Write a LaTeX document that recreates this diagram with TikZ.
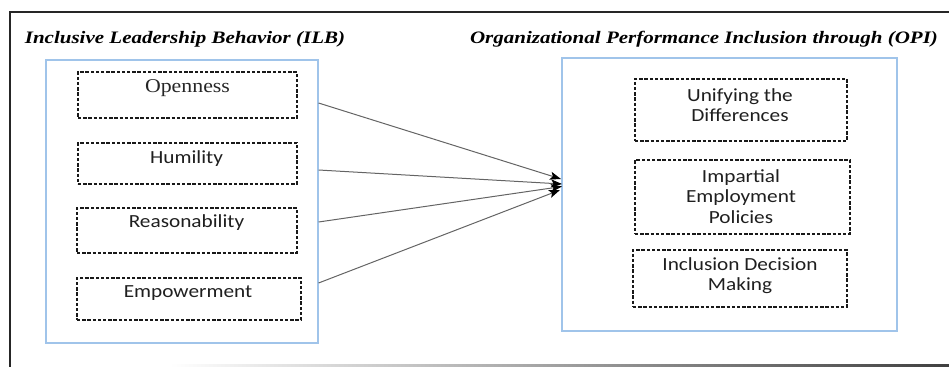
\documentclass[tikz,border=0pt]{standalone}
\usepackage{fontspec}
\setmainfont{Liberation Serif}
\newfontfamily\headfont[FakeStretch=1.2]{Liberation Serif}
\newfontfamily\serifwide[FakeStretch=1.12]{Liberation Serif}
\newfontfamily\itemfont[FakeStretch=1.15]{Carlito}
\usetikzlibrary{arrows.meta}
\definecolor{panelblue}{RGB}{160,196,234}
\definecolor{linkgray}{RGB}{100,100,100}
\tikzset{
  panel/.style={draw=panelblue, line width=1.1pt, rectangle, inner sep=0pt},
  dbox/.style={draw=black!90, line width=1.5pt, dash pattern=on 3.4pt off 1.8pt, rectangle, inner sep=0pt},
  heading/.style={font=\headfont\fontsize{17.5}{20}\selectfont\bfseries\itshape, inner sep=0pt},
  serifitem/.style={font=\serifwide\fontsize{19.5}{22}\selectfont, text=black!85, inner sep=0pt},
  sansitem/.style={font=\itemfont\fontsize{18.5}{20.5}\selectfont, text=black!88, align=center, inner sep=0pt},
  link/.style={draw=linkgray, line width=1pt, -{Stealth[length=11pt, width=8pt, inset=2.5pt, color=black]}}
}
\begin{document}
\begin{tikzpicture}[x=1pt, y=-1pt]
\useasboundingbox (0,0) rectangle (949,367);

% outer frame (open at the right)
\draw[black!85, line width=2.6pt] (10,12) -- (949,12);
\draw[black!85, line width=2pt] (10,11) -- (10,367);
\shade[left color=white, right color=black!75] (170,364) rectangle (949,366.5);

% headings
\node[heading] (hilb) at (185,39) {Inclusive Leadership Behavior (ILB)};
\node[heading] (hopi) at (704,39) {Organizational Performance Inclusion through (OPI)};

% panels
\node[panel, minimum width=272pt, minimum height=283pt] (ilb) at (182,201.5) {};
\node[panel, minimum width=335pt, minimum height=273pt] (opi) at (729.5,194.5) {};

% ILB dimensions
\node[dbox, minimum width=219pt, minimum height=46pt] (open) at (187.5,95) {};
\node[serifitem] (openT) at (187.5,88) {Openness};

\node[dbox, minimum width=219pt, minimum height=41pt] (hum) at (187.5,163.5) {};
\node[sansitem] (humT) at (186.5,159) {Humility};

\node[dbox, minimum width=220pt, minimum height=45pt] (reas) at (187,230.5) {};
\node[sansitem] (reasT) at (186.5,223) {Reasonability};

\node[dbox, minimum width=224pt, minimum height=42pt] (emp) at (189,299) {};
\node[sansitem] (empT) at (188,293) {Empowerment};

% OPI dimensions
\node[dbox, minimum width=212pt, minimum height=62pt] (unify) at (741,110) {};
\node[sansitem] (unifyT) at (740,105) {Unifying the\\Differences};

\node[dbox, minimum width=215pt, minimum height=74pt] (impart) at (742.5,197) {};
\node[sansitem] (impartT) at (741,196.5) {Impartial\\Employment\\Policies};

\node[dbox, minimum width=214pt, minimum height=57pt] (incl) at (740,278.5) {};
\node[sansitem] (inclT) at (740,275.5) {Inclusion Decision\\Making};

% link end points on the panel borders
\coordinate (s1) at (ilb.east |- 0,103);
\coordinate (s2) at (ilb.east |- 0,170);
\coordinate (s3) at (ilb.east |- 0,222);
\coordinate (s4) at (ilb.east |- 0,283);
\coordinate (t1) at (561,179);
\coordinate (t2) at (562,184);
\coordinate (t3) at (562,186.5);
\coordinate (t4) at (560,190);

\draw[link] (s1) -- (t1);
\draw[link] (s2) -- (t2);
\draw[link] (s3) -- (t3);
\draw[link] (s4) -- (t4);
\end{tikzpicture}
\end{document}
